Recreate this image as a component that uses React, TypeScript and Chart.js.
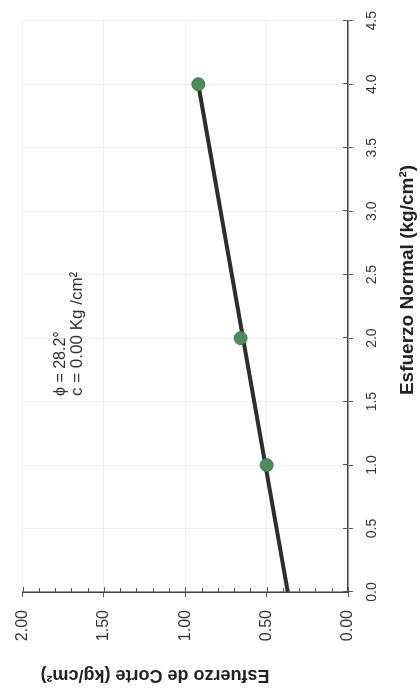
import React, { useEffect, useRef } from "react";
import { Chart, registerables } from "chart.js";

Chart.register(...registerables);

// Measured points (Esfuerzo Normal, Esfuerzo de Corte)
const normalValues = [1.0, 2.0, 4.0];
const shearValues = [0.5, 0.66, 0.92];
// Fitted envelope line
const fitNormal = [0.0, 4.0];
const fitShear = [0.37, 0.92];
// Axis tick settings
const normalTicks = { min: 0, max: 4.5, step: 0.5 };
const shearTicks = { min: 0, max: 2.0, step: 0.5, minorStep: 0.1 };
const annotationLines = ["\u03d5 = 28.2\u00b0", "c = 0.00 Kg /cm\u00b2"];
const xTitle = "Esfuerzo Normal (kg/cm\u00b2)";
const yTitle = "Esfuerzo de Corte (kg/cm\u00b2)";

const W = 697;
const H = 420;
const FONT = "'Liberation Sans', Arial, Helvetica, sans-serif";

const extrasPlugin = {
  id: "extras",
  afterDraw(chart: any) {
    const ctx = chart.ctx;
    const xs = chart.scales.x;
    const ys = chart.scales.y;
    const ca = chart.chartArea;
    ctx.save();
    ctx.strokeStyle = "#555";
    ctx.lineWidth = 1;
    // minor ticks on shear axis (pointing into plot)
    for (let v = shearTicks.min; v <= shearTicks.max + 1e-9; v += shearTicks.minorStep) {
      const py = Math.round(ys.getPixelForValue(v)) + 0.5;
      const isMajor = Math.abs(v / shearTicks.step - Math.round(v / shearTicks.step)) < 1e-6;
      ctx.beginPath();
      ctx.moveTo(ca.left, py);
      ctx.lineTo(ca.left + (isMajor ? 5 : 4), py);
      ctx.stroke();
    }
    // inner part of major ticks on normal axis
    for (let v = normalTicks.min; v <= normalTicks.max + 1e-9; v += normalTicks.step) {
      const px = Math.round(xs.getPixelForValue(v)) + 0.5;
      ctx.beginPath();
      ctx.moveTo(px, ca.bottom);
      ctx.lineTo(px, ca.bottom - 5);
      ctx.stroke();
    }
    // axis titles
    ctx.fillStyle = "#222";
    ctx.font = `bold 19px ${FONT}`;
    ctx.textAlign = "center";
    ctx.textBaseline = "middle";
    ctx.fillText(xTitle, 417, 408);
    ctx.font = `bold 18px ${FONT}`;
    ctx.save();
    ctx.translate(22, 155);
    ctx.rotate(-Math.PI / 2);
    ctx.fillText(yTitle, 0, 0);
    ctx.restore();
    // annotation
    ctx.font = `16px ${FONT}`;
    ctx.textAlign = "left";
    ctx.fillStyle = "#333";
    ctx.fillText(annotationLines[0], 301, 61);
    ctx.font = `17px ${FONT}`;
    ctx.fillText(annotationLines[1], 301, 77);
    ctx.restore();
  },
};

function ShearChart() {
  const ref = useRef<HTMLCanvasElement | null>(null);
  useEffect(() => {
    if (!ref.current) return;
    const chart = new Chart(ref.current, {
      type: "scatter",
      data: {
        datasets: [
          {
            label: "Ensayos",
            data: normalValues.map((x, i) => ({ x, y: shearValues[i] })),
            pointRadius: 6.5,
            pointBackgroundColor: "#4f8c5c",
            pointBorderColor: "#3f7a4c",
            pointBorderWidth: 1,
            showLine: false,
          },
          {
            label: "Envolvente",
            data: fitNormal.map((x, i) => ({ x, y: fitShear[i] })),
            showLine: true,
            borderColor: "#2e2e2e",
            borderWidth: 4,
            pointRadius: 0,
          },
        ],
      },
      options: {
        responsive: false,
        animation: false,
        layout: { padding: { top: 16, right: 4, left: 0, bottom: 0 } },
        plugins: { legend: { display: false }, tooltip: { enabled: false } },
        scales: {
          x: {
            type: "linear",
            min: normalTicks.min,
            max: normalTicks.max,
            ticks: {
              stepSize: normalTicks.step,
              callback: (v: any) => Number(v).toFixed(1),
              font: { family: FONT, size: 14 },
              color: "#333",
              padding: 11,
              maxRotation: 0,
            },
            grid: { color: "#efefef", tickColor: "#555", tickLength: 5, lineWidth: 1 },
            border: { display: true, color: "#444", width: 1.5 },
            afterFit: (s: any) => {
              s.height = 72;
            },
          },
          y: {
            type: "linear",
            min: shearTicks.min,
            max: shearTicks.max,
            ticks: {
              stepSize: shearTicks.step,
              callback: (v: any) => Number(v).toFixed(2),
              font: { family: FONT, size: 16 },
              color: "#333",
              padding: 13,
            },
            grid: { color: "#efefef", tickColor: "#555", tickLength: 5, lineWidth: 1 },
            border: { display: true, color: "#444", width: 1.5 },
            afterFit: (s: any) => {
              s.width = 105;
            },
          },
        },
      },
      plugins: [extrasPlugin],
    });
    return () => chart.destroy();
  }, []);
  return <canvas ref={ref} width={W} height={H} style={{ width: W, height: H, display: "block" }} />;
}

export default function App() {
  return (
    <div
      style={{
        position: "fixed",
        left: 0,
        top: 0,
        width: H,
        height: W,
        overflow: "hidden",
        background: "#fff",
      }}
    >
      <div
        style={{
          position: "absolute",
          left: 0,
          top: 0,
          width: W,
          height: H,
          transformOrigin: "0 0",
          transform: `translateY(${W}px) rotate(-90deg)`,
        }}
      >
        <ShearChart />
      </div>
    </div>
  );
}
